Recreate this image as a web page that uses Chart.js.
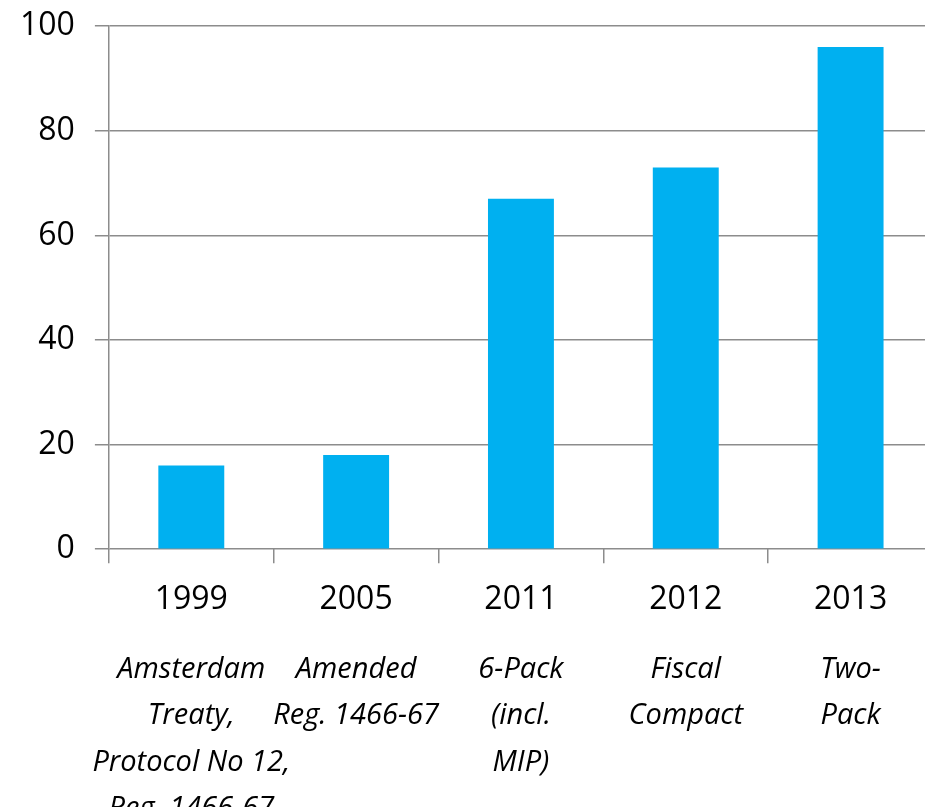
<!DOCTYPE html>
<html>
<head>
<meta charset="utf-8">
<script src="https://cdn.jsdelivr.net/npm/chart.js@4.4.1/dist/chart.umd.min.js"></script>
<style>
  html, body { margin: 0; padding: 0; background: #fff; overflow: hidden; }
  #wrap { position: relative; top: -13px; width: 936px; height: 847px; }
</style>
</head>
<body>
<div id="wrap"><canvas id="myChart1"></canvas></div>
<script>
'use strict';

var years = ['1999', '2005', '2011', '2012', '2013'];
var descriptions = [
  ['Amsterdam', 'Treaty,', 'Protocol No 12,', 'Reg. 1466-67'],
  ['Amended', 'Reg. 1466-67'],
  ['6-Pack', '(incl.', 'MIP)'],
  ['Fiscal', 'Compact'],
  ['Two-', 'Pack']
];
var values = [16, 18, 67, 73, 96];
var yTicks = [0, 20, 40, 60, 80, 100];

var ctx = document.getElementById('myChart1').getContext('2d');
var axisGray = '#8c8c8c';

new Chart(ctx, {
  type: 'bar',
  data: {
    labels: years,
    datasets: [{
      data: values,
      backgroundColor: '#00b0f0',
      barPercentage: 0.4,
      categoryPercentage: 1.0,
      xAxisID: 'x',
    }],
  },
  options: {
    responsive: true,
    maintainAspectRatio: false,
    animation: false,
    layout: {
      padding: { top: 0, left: 0, right: 3, bottom: 0 }
    },
    plugins: {
      legend: { display: false },
      tooltip: { enabled: false },
    },
    scales: {
      x: {
        position: 'bottom',
        grid: {
          offset: true,
          drawOnChartArea: false,
          drawTicks: true,
          tickLength: 14,
          color: axisGray,
          lineWidth: 1.5,
        },
        border: { display: false },
        ticks: {
          color: '#000',
          font: { family: 'Open Sans', size: 32, lineHeight: 0.6 },
          padding: 27,
          maxRotation: 0,
          autoSkip: false,
        }
      },
      x2: {
        type: 'category',
        position: 'bottom',
        labels: descriptions,
        offset: true,
        grid: { display: false },
        border: { display: false },
        ticks: {
          color: '#000',
          font: { family: 'Open Sans', size: 29, style: 'italic', lineHeight: 1.6 },
          padding: 2,
          maxRotation: 0,
          autoSkip: false,
        }
      },
      y: {
        min: 0,
        max: 100,
        afterBuildTicks: function (scale) {
          scale.ticks = yTicks.map(function (v) { return { value: v }; });
        },
        grid: {
          color: axisGray,
          lineWidth: 1.5,
          tickLength: 14,
        },
        border: { color: axisGray, width: 1.5 },
        ticks: {
          color: '#000',
          font: { family: 'Open Sans', size: 32 },
          padding: 20,
        }
      }
    }
  }
});
</script>
</body>
</html>
